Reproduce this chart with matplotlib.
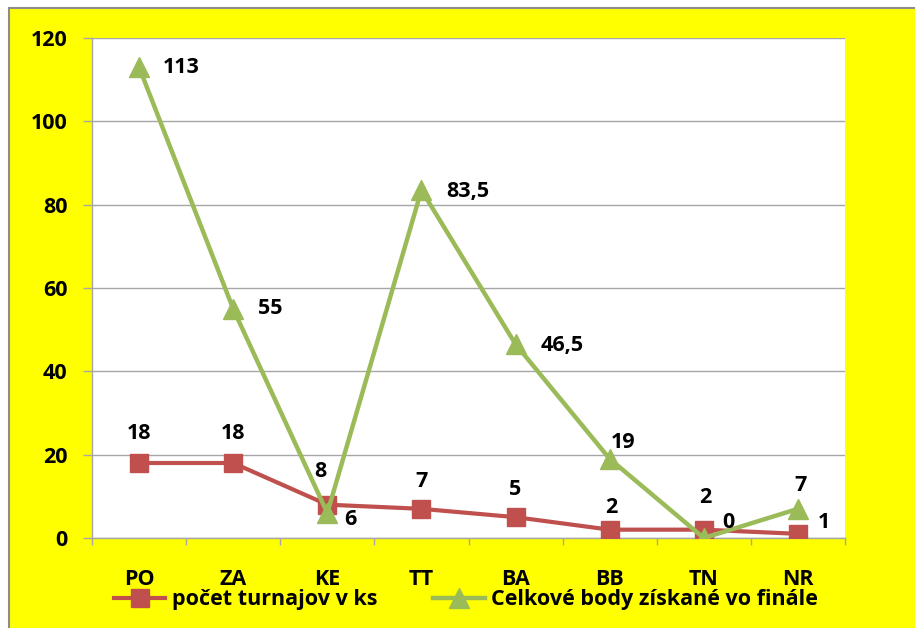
import matplotlib.pyplot as plt
from matplotlib.patches import Rectangle
import numpy as np

plt.rcParams['font.family'] = ['Open Sans', 'DejaVu Sans']
plt.rcParams['font.weight'] = 'bold'

regions = ['PO', 'ZA', 'KE', 'TT', 'BA', 'BB', 'TN', 'NR']
turnaje = [18, 18, 8, 7, 5, 2, 2, 1]
body = [113, 55, 6, 83.5, 46.5, 19, 0, 7]
turnaje_labels = ['18', '18', '8', '7', '5', '2', '2', '1']
body_labels = ['113', '55', '6', '83,5', '46,5', '19', '0', '7']

# label offsets in points (dx, dy, ha)
turnaje_off = [(0, 21, 'center'), (0, 21, 'center'), (-5, 24, 'center'),
               (0, 20, 'center'), (0, 20, 'center'), (1, 16, 'center'),
               (1, 23, 'center'), (14, 8, 'left')]
body_off = [(17, 0, 'left'), (18, 0, 'left'), (12, -5, 'left'),
            (18, -1, 'left'), (18, -1, 'left'), (1, 12, 'left'),
            (13, 11, 'left'), (2, 17, 'center')]

red = '#C0504D'
green = '#9BBB59'
grey = '#A6A6A6'
fs = 15.5

fig = plt.figure(figsize=(9.15, 6.28), dpi=100)
fig.patch.set_facecolor('white')
fig.patches.append(Rectangle((9 / 915, -0.1), 1.0, 1.1 - 8 / 628,
                             transform=fig.transFigure, facecolor='#FFFF00',
                             edgecolor='#8C8C8C', linewidth=1.5, zorder=-10))

ax = fig.add_axes([92 / 915, 90 / 628, 753 / 915, 500 / 628])
ax.set_facecolor('white')
x = np.arange(len(regions))

ax.plot(x, turnaje, color=red, lw=3, marker='s', markersize=13,
        markeredgecolor=red, label='počet turnajov v ks', zorder=3)
ax.plot(x, body, color=green, lw=3.2, marker='^', markersize=15,
        markeredgecolor=green, label='Celkové body získané vo finále', zorder=4)

for xi, v, t, (dx, dy, ha) in zip(x, turnaje, turnaje_labels, turnaje_off):
    ax.annotate(t, (xi, v), xytext=(dx, dy), textcoords='offset points',
                ha=ha, va='center', fontsize=fs, fontweight='bold', zorder=5)
for xi, v, t, (dx, dy, ha) in zip(x, body, body_labels, body_off):
    ax.annotate(t, (xi, v), xytext=(dx, dy), textcoords='offset points',
                ha=ha, va='center', fontsize=fs, fontweight='bold', zorder=5)

ax.set_xlim(-0.5, len(regions) - 0.5)
ax.set_ylim(0, 120)
ax.set_yticks(np.arange(0, 121, 20))
ax.yaxis.grid(True, color=grey, lw=1)
ax.set_axisbelow(True)

ax.set_xticks(np.arange(-0.5, len(regions), 1))
ax.set_xticklabels([])
ax.set_xticks(x, minor=True)
ax.set_xticklabels(regions, minor=True)
ax.tick_params(axis='x', which='major', length=5, color=grey, width=1)
ax.tick_params(axis='x', which='minor', length=0, pad=22, labelsize=fs)
ax.tick_params(axis='y', length=6.5, color=grey, width=1, pad=11, labelsize=fs)
for lbl in ax.get_xticklabels(minor=True) + ax.get_yticklabels():
    lbl.set_fontweight('bold')

for s in ['top', 'right']:
    ax.spines[s].set_visible(False)
for s in ['left', 'bottom']:
    ax.spines[s].set_color(grey)
    ax.spines[s].set_linewidth(1)

fig.legend(loc='center', bbox_to_anchor=(466 / 915, 28 / 628), ncol=2,
           frameon=False, handlelength=2.4, handletextpad=0.3,
           columnspacing=2.6, prop={'weight': 'bold', 'size': fs})

fig.savefig('out.png', dpi=100)
